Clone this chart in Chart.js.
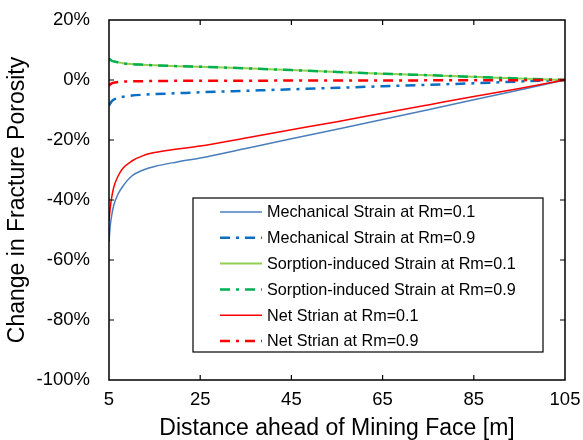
<!DOCTYPE html>
<html>
<head>
<meta charset="utf-8">
<script src="https://cdn.jsdelivr.net/npm/chart.js@4/dist/chart.umd.min.js"></script>
<style>
  html, body { margin: 0; padding: 0; background: #fff; }
  #wrap { width: 583px; height: 440px; }
</style>
</head>
<body>
<div id="wrap"><canvas id="c" width="583" height="440"></canvas></div>
<script>
// Distance ahead of the mining face [m]
const distance = [5, 5.25, 5.5, 6, 7, 8, 10, 12.5, 15, 20, 25, 35, 45, 55, 65, 75, 85, 95, 105];

// Change in fracture porosity [%]
const mechanicalRm01 = [-54, -49, -46, -42, -38, -35.5, -32, -30, -28.8, -27.3, -26, -22.8, -19.6, -16.4, -13.2, -9.9, -6.6, -3.3, 0];
const mechanicalRm09 = [-8.5, -7.9, -7.3, -6.6, -6, -5.6, -5.2, -4.9, -4.7, -4.4, -4.1, -3.6, -3.1, -2.6, -2.1, -1.6, -1.1, -0.5, 0];
const sorptionRm01 = [7, 6.8, 6.5, 6.2, 5.9, 5.6, 5.3, 5.1, 4.9, 4.6, 4.4, 3.9, 3.3, 2.7, 2.1, 1.6, 1.05, 0.5, 0];
const sorptionRm09 = [7, 6.8, 6.5, 6.2, 5.9, 5.6, 5.3, 5.1, 4.9, 4.6, 4.4, 3.9, 3.3, 2.7, 2.1, 1.6, 1.05, 0.5, 0];
const netRm01 = [-47, -43, -40, -36, -32, -29.5, -27, -25.2, -24.2, -23, -22, -19.3, -16.6, -13.9, -11.1, -8.3, -5.5, -2.8, 0];
const netRm09 = [-1.8, -1.5, -1.2, -0.9, -0.7, -0.55, -0.45, -0.38, -0.33, -0.28, -0.25, -0.22, -0.2, -0.17, -0.15, -0.12, -0.1, -0.05, 0];

const seriesLabels = [
  'Mechanical Strain at Rm=0.1',
  'Mechanical Strain at Rm=0.9',
  'Sorption-induced Strain at Rm=0.1',
  'Sorption-induced Strain at Rm=0.9',
  'Net Strian at Rm=0.1',
  'Net Strian at Rm=0.9'
];

const xTitle = 'Distance ahead of Mining Face [m]';
const yTitle = 'Change in Fracture Porosity';

const FONT = 'Liberation Sans, Arial, Helvetica, sans-serif';
const DASH_DOT = [10, 6, 3, 6];

function pts(values) {
  return distance.map((d, i) => ({ x: d, y: values[i] }));
}

function series(label, values, color, width, dash, order) {
  return {
    label: label,
    data: pts(values),
    borderColor: color,
    backgroundColor: color,
    borderWidth: width,
    borderDash: dash,
    pointRadius: 0,
    fill: false,
    cubicInterpolationMode: 'monotone',
    order: order
  };
}

// Frame with inward tick marks on all four sides
const framePlugin = {
  id: 'frame',
  afterDraw(chart) {
    const { ctx, chartArea: a, scales } = chart;
    const L = 5;
    ctx.save();
    ctx.strokeStyle = '#000';
    ctx.lineWidth = 1.5;
    ctx.strokeRect(a.left, a.top, a.right - a.left, a.bottom - a.top);
    ctx.lineWidth = 1.2;
    ctx.beginPath();
    scales.x.ticks.forEach(t => {
      const px = scales.x.getPixelForValue(t.value);
      if (px <= a.left + 1 || px >= a.right - 1) return;
      ctx.moveTo(px, a.bottom); ctx.lineTo(px, a.bottom - L);
      ctx.moveTo(px, a.top); ctx.lineTo(px, a.top + L);
    });
    scales.y.ticks.forEach(t => {
      const py = scales.y.getPixelForValue(t.value);
      if (py <= a.top + 1 || py >= a.bottom - 1) return;
      ctx.moveTo(a.left, py); ctx.lineTo(a.left + L, py);
      ctx.moveTo(a.right, py); ctx.lineTo(a.right - L, py);
    });
    ctx.stroke();
    ctx.restore();
  }
};

// Boxed legend inside the plot area
const boxLegendPlugin = {
  id: 'boxLegend',
  afterDraw(chart) {
    const { ctx } = chart;
    const box = { x: 193, y: 198, w: 350, h: 154 };
    const rowStart = 212, rowGap = 25.8;
    ctx.save();
    ctx.fillStyle = '#fff';
    ctx.fillRect(box.x, box.y, box.w, box.h);
    ctx.strokeStyle = '#000';
    ctx.lineWidth = 1.2;
    ctx.strokeRect(box.x, box.y, box.w, box.h);
    ctx.font = '16.2px ' + FONT;
    ctx.textBaseline = 'middle';
    ctx.textAlign = 'left';
    chart.data.datasets.forEach((ds, i) => {
      const y = rowStart + i * rowGap;
      ctx.beginPath();
      ctx.strokeStyle = ds.borderColor;
      ctx.lineWidth = ds.borderWidth;
      ctx.setLineDash(ds.borderDash || []);
      ctx.moveTo(220, y);
      ctx.lineTo(262, y);
      ctx.stroke();
      ctx.setLineDash([]);
      ctx.fillStyle = '#000';
      ctx.fillText(ds.label, 267, y + 1);
    });
    ctx.restore();
  }
};

new Chart(document.getElementById('c'), {
  type: 'line',
  data: {
    datasets: [
      series(seriesLabels[0], mechanicalRm01, '#4a7ebb', 1.5, [], 5),
      series(seriesLabels[1], mechanicalRm09, '#0a6fc2', 2.5, DASH_DOT, 4),
      series(seriesLabels[2], sorptionRm01, '#92d050', 2, [], 3),
      series(seriesLabels[3], sorptionRm09, '#00b050', 2.5, DASH_DOT, 2),
      series(seriesLabels[4], netRm01, '#ff0000', 1.5, [], 1),
      series(seriesLabels[5], netRm09, '#ff0000', 2.5, DASH_DOT, 0)
    ]
  },
  options: {
    responsive: false,
    animation: false,
    devicePixelRatio: 1,
    layout: { padding: { left: 0, right: 18, top: 20, bottom: 0 } },
    plugins: { legend: { display: false }, tooltip: { enabled: false } },
    scales: {
      x: {
        type: 'linear',
        min: 5,
        max: 105,
        ticks: {
          stepSize: 20,
          color: '#000',
          font: { family: FONT, size: 18.5 },
          padding: 9,
          maxRotation: 0
        },
        grid: { display: false, drawTicks: false },
        border: { display: false },
        title: {
          display: true,
          text: xTitle,
          color: '#000',
          font: { family: FONT, size: 23, lineHeight: 1 },
          padding: { top: 1, bottom: 0 }
        },
        afterFit(s) {
          s.height = 60;
          s.paddingLeft = 0;
          s.paddingRight = 0;
        }
      },
      y: {
        type: 'linear',
        min: -100,
        max: 20,
        ticks: {
          stepSize: 20,
          color: '#000',
          font: { family: FONT, size: 18.5 },
          padding: 19,
          callback: v => v + '%'
        },
        grid: { display: false, drawTicks: false },
        border: { display: false },
        title: {
          display: true,
          text: yTitle,
          color: '#000',
          font: { family: FONT, size: 23, lineHeight: 1 },
          padding: { top: 6, bottom: 0 }
        },
        afterFit(s) {
          s.width = 109;
          s.paddingTop = 0;
          s.paddingBottom = 0;
        }
      }
    }
  },
  plugins: [framePlugin, boxLegendPlugin]
});
</script>
</body>
</html>
